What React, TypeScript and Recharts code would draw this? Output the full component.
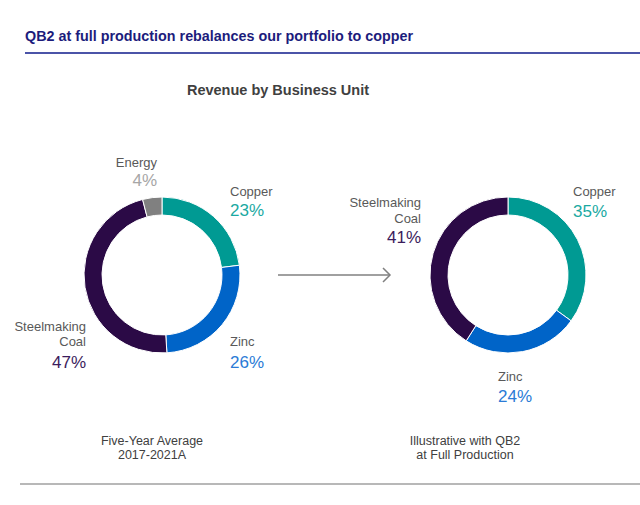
import React from 'react';
import { PieChart, Pie, Cell } from 'recharts';

const chartTitle = 'QB2 at full production rebalances our portfolio to copper';
const chartSubtitle = 'Revenue by Business Unit';

const fiveYearUnits = ['Copper', 'Zinc', 'Steelmaking Coal', 'Energy'];
const fiveYearShares = [23, 26, 47, 4];
const fiveYearCaption = ['Five-Year Average', '2017-2021A'];

const qb2Units = ['Copper', 'Zinc', 'Steelmaking Coal'];
const qb2Shares = [35, 24, 41];
const qb2Caption = ['Illustrative with QB2', 'at Full Production'];

const FONT = '"Liberation Sans", Arial, Helvetica, sans-serif';

const fillColors: Record<string, string> = {
  Copper: '#009a93',
  Zinc: '#0064c8',
  'Steelmaking Coal': '#2b0a46',
  Energy: '#808080',
};
const pctColors: Record<string, string> = {
  Copper: '#1aa9a2',
  Zinc: '#2b7bd6',
  'Steelmaking Coal': '#3b1c5c',
  Energy: '#a6a6a6',
};

type LabelLayout = { dx: number; anchor: 'start' | 'end'; lines: number[]; pct: number };

const leftLayout: Record<string, LabelLayout> = {
  Energy: { dx: -5, anchor: 'end', lines: [-108], pct: -89 },
  Copper: { dx: 68, anchor: 'start', lines: [-79], pct: -59 },
  Zinc: { dx: 68, anchor: 'start', lines: [71], pct: 93 },
  'Steelmaking Coal': { dx: -76, anchor: 'end', lines: [56, 71], pct: 93 },
};
const rightLayout: Record<string, LabelLayout> = {
  Copper: { dx: 65, anchor: 'start', lines: [-79], pct: -58 },
  Zinc: { dx: -10, anchor: 'start', lines: [106], pct: 127 },
  'Steelmaking Coal': { dx: -87, anchor: 'end', lines: [-68, -52], pct: -32 },
};

const makeData = (units: string[], shares: number[]) =>
  units.map((name, i) => ({ name, value: shares[i] }));

const fiveYearData = makeData(fiveYearUnits, fiveYearShares);
const qb2Data = makeData(qb2Units, qb2Shares);

const makeLabel = (layout: Record<string, LabelLayout>, cxVal: number, cyVal: number) => (props: any) => {
  const name: string = props.name ?? props.payload?.name;
  const value: number = props.value ?? props.payload?.value;
  const l = layout[name];
  if (!l) return null;
  const x = cxVal + l.dx;
  const nameLines = name === 'Steelmaking Coal' ? ['Steelmaking', 'Coal'] : [name];
  return (
    <g key={`lbl-${name}`}>
      {nameLines.map((t, i) => (
        <text
          key={t}
          x={x}
          y={cyVal + l.lines[i]}
          textAnchor={l.anchor}
          fontFamily={FONT}
          fontSize={13}
          fill="#595959"
        >
          {t}
        </text>
      ))}
      <text x={x} y={cyVal + l.pct} textAnchor={l.anchor} fontFamily={FONT} fontSize={17} fill={pctColors[name]}>
        {`${value}%`}
      </text>
    </g>
  );
};

const LCX = 162;
const RCX = 508;
const CY = 275;

export default function App() {
  return (
    <div style={{ position: 'absolute', left: 0, top: 0, width: 640, height: 505, background: '#fff' }}>
      <svg width={640} height={505} style={{ position: 'absolute', left: 0, top: 0 }}>
        <text
          x={25}
          y={41}
          fontFamily={FONT}
          fontSize={15.5}
          fontWeight="bold"
          fill="#1c1c7c"
          textLength={388}
          lengthAdjust="spacingAndGlyphs"
        >
          {chartTitle}
        </text>
        <line x1={25} x2={640} y1={53} y2={53} stroke="#4b54a8" strokeWidth={2} />
        <text x={278} y={95} textAnchor="middle" fontFamily={FONT} fontSize={14.5} fontWeight="bold" fill="#404040">
          {chartSubtitle}
        </text>
        <line x1={278} x2={390} y1={275} y2={275} stroke="#808080" strokeWidth={1.5} />
        <polyline points="383,268 390,275 383,282" fill="none" stroke="#808080" strokeWidth={1.5} />
        {fiveYearCaption.map((t, i) => (
          <text key={t} x={152} y={445 + i * 14} textAnchor="middle" fontFamily={FONT} fontSize={12.5} fill="#404040">
            {t}
          </text>
        ))}
        {qb2Caption.map((t, i) => (
          <text key={t} x={465} y={445 + i * 14} textAnchor="middle" fontFamily={FONT} fontSize={12.5} fill="#404040">
            {t}
          </text>
        ))}
        <line x1={20} x2={640} y1={484} y2={484} stroke="#a0a0a0" strokeWidth={1.5} />
      </svg>
      <div style={{ position: 'absolute', left: 0, top: 0 }}>
        <PieChart width={640} height={505} margin={{ top: 0, right: 0, bottom: 0, left: 0 }}>
          <Pie
            data={fiveYearData}
            dataKey="value"
            nameKey="name"
            cx={LCX}
            cy={CY}
            innerRadius={60}
            outerRadius={78}
            startAngle={90}
            endAngle={-270}
            stroke="#ffffff"
            strokeWidth={1}
            isAnimationActive={false}
            labelLine={false}
            label={makeLabel(leftLayout, LCX, CY)}
          >
            {fiveYearData.map((d) => (
              <Cell key={d.name} fill={fillColors[d.name]} />
            ))}
          </Pie>
          <Pie
            data={qb2Data}
            dataKey="value"
            nameKey="name"
            cx={RCX}
            cy={CY}
            innerRadius={60}
            outerRadius={78}
            startAngle={90}
            endAngle={-270}
            stroke="#ffffff"
            strokeWidth={1}
            isAnimationActive={false}
            labelLine={false}
            label={makeLabel(rightLayout, RCX, CY)}
          >
            {qb2Data.map((d) => (
              <Cell key={d.name} fill={fillColors[d.name]} />
            ))}
          </Pie>
        </PieChart>
      </div>
    </div>
  );
}
